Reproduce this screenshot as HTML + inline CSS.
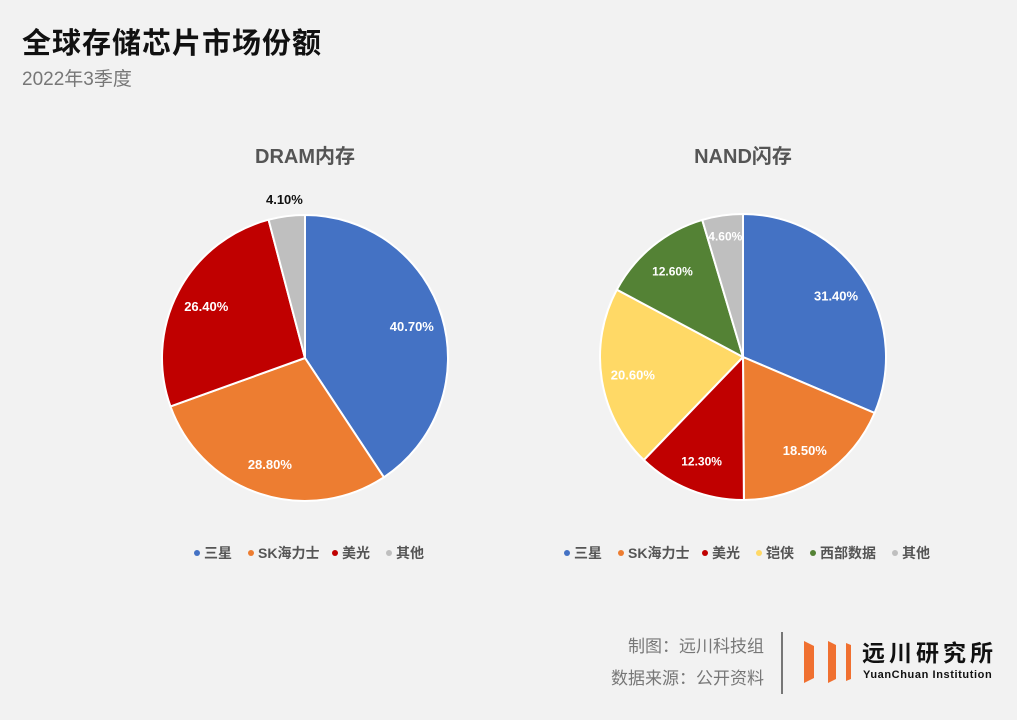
<!DOCTYPE html>
<html><head><meta charset="utf-8"><style>
body{margin:0;background:#f2f2f2;}
#c{position:relative;width:1017px;height:720px;background:#f2f2f2;font-family:"Liberation Sans","Noto Sans CJK SC",sans-serif;overflow:hidden}
.t{position:absolute;white-space:nowrap}
</style></head><body>
<div id="c">
<div class="t" style="left:22px;top:20px;font-size:29px;font-weight:bold;color:#111;letter-spacing:1px">全球存储芯片市场份额</div>
<div class="t" style="left:22px;top:64px;font-size:19px;color:#777">2022年3季度</div>
<svg id="s" width="1017" height="720" style="position:absolute;left:0;top:0"></svg>
<div class="t" style="right:253px;top:632px;font-size:17px;color:#777">制图：远川科技组</div>
<div class="t" style="right:253px;top:664px;font-size:17px;color:#777">数据来源：公开资料</div>
<div style="position:absolute;left:781px;top:632px;width:2px;height:62px;background:#777"></div>
<svg width="60" height="50" style="position:absolute;left:800px;top:638px">
<polygon points="4,3 14,8 14,40 4,45" fill="#f07030"/><polygon points="28,3 36,7 36,41 28,45" fill="#f07030"/><polygon points="46,5 51,7 51,41 46,43" fill="#f07030"/></svg>
<div class="t" style="left:862px;top:638px;font-size:23px;line-height:30px;font-weight:bold;color:#111;letter-spacing:4px">远川研究所</div>
<div class="t" style="left:863px;top:669px;font-size:11px;line-height:13px;font-weight:bold;color:#111;letter-spacing:0.6px">YuanChuan Institution</div>
</div>
<script>
const dramCats=["三星","SK海力士","美光","其他"];
const dramVals=[40.7,28.8,26.4,4.1];
const nandCats=["三星","SK海力士","美光","铠侠","西部数据","其他"];
const nandVals=[31.4,18.5,12.3,20.6,12.6,4.6];
const colors={"三星":"#4472c4","SK海力士":"#ed7d31","美光":"#c00000","铠侠":"#ffd966","西部数据":"#548235","其他":"#bfbfbf"};
const svg=document.getElementById('s');const NS="http://www.w3.org/2000/svg";
function mk(t,a){const e=document.createElementNS(NS,t);for(const k in a)e.setAttribute(k,a[k]);svg.appendChild(e);return e;}
function pie(title,cats,vals,cx,cy,r,outsideSmall,key){
  const tt=mk('text',{x:cx,y:163,'text-anchor':'middle','font-size':20,'font-weight':'bold',fill:'#555'});
  tt.textContent=title;
  
  
  const tot=vals.reduce((a,b)=>a+b,0);let a0=-Math.PI/2;
  vals.forEach((v,i)=>{
    const a1=a0+v/tot*2*Math.PI;
    const x0=cx+r*Math.cos(a0),y0=cy+r*Math.sin(a0),x1=cx+r*Math.cos(a1),y1=cy+r*Math.sin(a1);
    const p=mk('path',{d:`M${cx},${cy}L${x0},${y0}A${r},${r} 0 ${a1-a0>Math.PI?1:0} 1 ${x1},${y1}Z`,fill:colors[cats[i]],stroke:'#fff','stroke-width':2});
    
    
    const am=(a0+a1)/2;let lr=v<5?(outsideSmall?1.12:0.86):0.78;
    const t=mk('text',{x:cx+lr*r*Math.cos(am),y:cy+lr*r*Math.sin(am)+5,'text-anchor':'middle','font-size':v<15&&!outsideSmall?12:13,'font-weight':'bold',fill:(v<5&&outsideSmall)?'#111':'#fff'});
    t.textContent=v.toFixed(2)+'%';
    
    
    a0=a1;
  });
  const widths=cats.map(c=>c.length*14+(/[A-Z]/.test(c)?-12:0)+18);
  const total=widths.reduce((a,b)=>a+b,0)+(cats.length-1)*8;let x=cx-total/2+8;
  cats.forEach((c,i)=>{
    const m=mk('circle',{cx:x+3,cy:553,r:3,fill:colors[c]});
    
    
    const t=mk('text',{x:x+10,y:558,'font-size':14,'font-weight':'bold',fill:'#555'});
    t.textContent=c;
    
    
    x+=widths[i]+8;
  });
}
pie('DRAM内存',dramCats,dramVals,305,358,143,true,'dram');
pie('NAND闪存',nandCats,nandVals,743,357,143,false,'nand');
</script>
</body></html>
